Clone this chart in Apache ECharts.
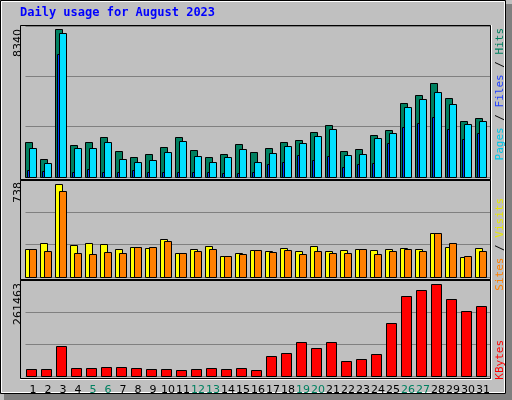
<!DOCTYPE html>
<html>
<head>
<meta charset="utf-8">
<script src="https://cdn.jsdelivr.net/npm/echarts@6/dist/echarts.min.js"></script>
<style>
    html, body { margin: 0; padding: 0; background: #c0c0c0; }
    #chart { width: 512px; height: 400px; }
</style>
</head>
<body>
<div id="chart"></div>
<script>
// daily values, August 2023
const days = Array.from({ length: 31 }, (_, i) => String(i + 1))
const weekends = ['5', '6', '12', '13', '19', '20', '26', '27']
const hits = [1990, 1035, 8340, 1825, 1990, 2235, 1485, 1150, 1315, 1710, 2275, 1540, 1150, 1315, 1880, 1400,
    1655, 1990, 2105, 2555, 2950, 1485, 1600, 2385, 2670, 4190, 4640, 5315, 4470, 3175, 3345]
const files = [1655, 810, 8130, 1655, 1655, 1990, 1035, 865, 980, 1430, 2050, 1205, 865, 1150, 1600, 820,
    1375, 1770, 1935, 2330, 2725, 1260, 1315, 2220, 2500, 3965, 4415, 4810, 4130, 3005, 3175]
const pages = [380, 320, 6900, 265, 435, 265, 265, 380, 265, 265, 265, 265, 265, 210, 210, 265,
    755, 865, 1260, 980, 1205, 585, 755, 810, 1935, 2835, 3060, 3400, 2720, 2160, 2500]
const visits = [226, 273, 738, 257, 273, 265, 226, 241, 234, 304, 187, 226, 249, 164, 187, 218,
    210, 234, 203, 249, 210, 218, 226, 218, 226, 234, 226, 350, 241, 156, 234]
const sites = [226, 210, 686, 187, 179, 195, 187, 241, 241, 288, 187, 203, 226, 164, 179, 218,
    195, 218, 179, 210, 187, 187, 226, 179, 203, 226, 210, 350, 273, 164, 203]
const kbytes = [19300, 19300, 85300, 22000, 22000, 24800, 24800, 22000, 19300, 19300, 16500, 19300, 22000, 19300, 22000, 16500,
    57800, 66000, 96300, 79800, 96300, 41300, 49500, 63300, 151400, 228400, 244900, 261463, 220200, 184400, 198100]

const chart = echarts.init(document.getElementById('chart'))

// bar drawn relative to the category centre: [x offset from centre, width]
function barSeries(data, grid, color, dx, w, z) {
    return {
        type: 'custom',
        xAxisIndex: grid,
        yAxisIndex: grid,
        z: z,
        data: data.map((v, i) => [i, v]),
        renderItem(params, api) {
            const top = api.coord([api.value(0), api.value(1)])
            const base = api.coord([api.value(0), 0])
            return {
                type: 'rect',
                shape: { x: top[0] + dx + 0.5, y: Math.round(top[1]) + 0.5, width: w, height: Math.round(base[1] - top[1]) },
                style: { fill: color, stroke: '#000', lineWidth: 1 }
            }
        }
    }
}

const grids = [
    { left: 25.5, width: 465, top: 26, height: 151 },
    { left: 25.5, width: 465, top: 180, height: 97 },
    { left: 25.5, width: 465, top: 280.5, height: 95.5 }
]
const maxes = [8500, 770, 272000]

const font = 'DejaVu Sans'
function sideText(x, y, parts) {
    return {
        type: 'text', x: x, y: y, rotation: Math.PI / 2,
        style: {
            text: parts.map(p => '{' + p[1] + '|' + p[0] + '}').join(''),
            rich: Object.fromEntries(parts.map(p => [p[1], { fill: p[2], font: '11px "DejaVu Sans Mono"' }])),
            align: 'right', verticalAlign: 'middle'
        }
    }
}
const colors = { c0: '#00c8e8', c1: '#2040ff', c2: '#008060', c3: '#ff8000', c4: '#e8e800', c5: '#ff0000', s: '#000' }

chart.setOption({
    animation: false,
    backgroundColor: '#c0c0c0',
    grid: grids,
    xAxis: grids.map((g, i) => ({
        type: 'category', gridIndex: i, data: days,
        axisLine: { show: false }, axisTick: { show: false },
        axisLabel: {
            show: i === 2, margin: 9, fontFamily: font, fontSize: 11, interval: 0,
            color: v => weekends.includes(v) ? '#008060' : '#000'
        }
    })),
    yAxis: grids.map((g, i) => ({
        type: 'value', gridIndex: i, min: 0, max: maxes[i], interval: maxes[i] / 3,
        axisLabel: { show: false }, axisLine: { show: false }, axisTick: { show: false },
        splitLine: { lineStyle: { color: '#808080', width: 1 } }
    })),
    graphic: [
        { type: 'rect', shape: { x: 506, y: 4, width: 6, height: 396 }, style: { fill: '#808080' }, silent: true },
        { type: 'rect', shape: { x: 4, y: 394, width: 508, height: 6 }, style: { fill: '#808080' }, silent: true },
        { type: 'rect', shape: { x: 0.5, y: 0.5, width: 505, height: 393 }, style: { fill: 'none', stroke: '#000' }, silent: true },
        { type: 'rect', shape: { x: 1.5, y: 1.5, width: 503, height: 391 }, style: { fill: 'none', stroke: '#fff' }, silent: true },
        { type: 'rect', shape: { x: 20.5, y: 25.5, width: 470, height: 353 }, style: { fill: 'none', stroke: '#000' }, silent: true, z: 10 },
        { type: 'rect', shape: { x: 20.5, y: 179.5, width: 470, height: 1 }, style: { fill: '#fff', stroke: '#000' }, silent: true, z: 10 },
        { type: 'rect', shape: { x: 20.5, y: 279.5, width: 470, height: 1 }, style: { fill: '#fff', stroke: '#000' }, silent: true, z: 10 },
        { type: 'line', shape: { x1: 20, y1: 379.5, x2: 491, y2: 379.5 }, style: { stroke: '#fff' }, silent: true },
        { type: 'line', shape: { x1: 491.5, y1: 25, x2: 491.5, y2: 380 }, style: { stroke: '#fff' }, silent: true },
        {
            type: 'text', x: 20, y: 7,
            style: { text: 'Daily usage for August 2023', fill: '#0000ff', font: 'bold 12px "DejaVu Sans Mono"' }
        },
        { type: 'text', x: 18, y: 29, rotation: Math.PI / 2, style: { text: String(Math.max(...hits)), fill: '#000', font: '11px ' + font, align: 'right', verticalAlign: 'middle' } },
        { type: 'text', x: 18, y: 182, rotation: Math.PI / 2, style: { text: String(Math.max(...visits)), fill: '#000', font: '11px ' + font, align: 'right', verticalAlign: 'middle' } },
        { type: 'text', x: 18, y: 283, rotation: Math.PI / 2, style: { text: String(Math.max(...kbytes)), fill: '#000', font: '11px ' + font, align: 'right', verticalAlign: 'middle' } },
        sideText(500, 28, [['Pages', 'c0', colors.c0], [' / ', 's', '#000'], ['Files', 'c1', colors.c1], [' / ', 's', '#000'], ['Hits', 'c2', colors.c2]]),
        sideText(500, 198, [['Sites', 'c3', colors.c3], [' / ', 's', '#000'], ['Visits', 'c4', colors.c4]]),
        sideText(500, 340, [['KBytes', 'c5', colors.c5]])
    ],
    series: [
        barSeries(hits, 0, '#008060', -8, 7, 2),
        barSeries(files, 0, '#00e0ff', -4, 7, 3),
        barSeries(pages, 0, '#0040ff', -6, 2, 2.5),
        barSeries(visits, 1, '#ffff00', -8, 7, 2),
        barSeries(sites, 1, '#ff8000', -4, 7, 3),
        barSeries(kbytes, 2, '#ff0000', -7, 10, 2)
    ]
})
</script>
</body>
</html>
